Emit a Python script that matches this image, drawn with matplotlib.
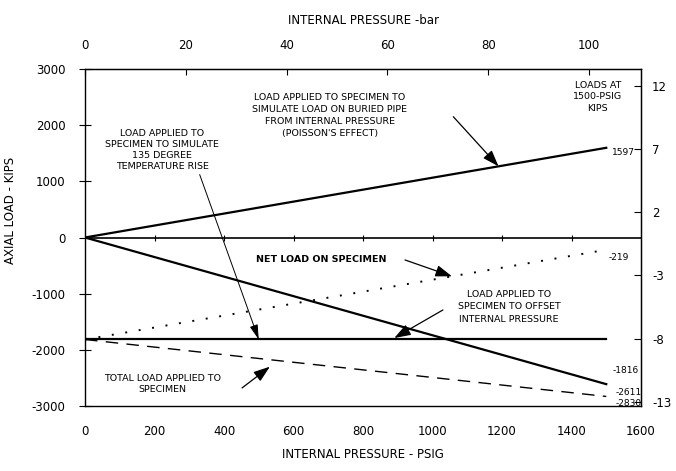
import matplotlib
matplotlib.use("Agg")
import matplotlib.pyplot as plt
import numpy as np

# ---- data ----
pressure_psig = [0, 1500]
poisson_load = [0, 1597]          # load to simulate Poisson effect
temperature_load = [-1816, -1816]  # 135 degree temperature rise
offset_load = [0, -2611]          # offset internal pressure
net_load = [-1816, -219]          # net load on specimen
total_load = [-1816, -2830]       # total load applied

x_ticks = [0, 200, 400, 600, 800, 1000, 1200, 1400, 1600]
y_ticks = [-3000, -2000, -1000, 0, 1000, 2000, 3000]
bar_ticks = [0, 20, 40, 60, 80, 100]
mn_ticks = [12, 7, 2, -3, -8, -13]

PSI_PER_BAR = 14.5038
MN_PER_KIP = 0.004448

plt.rcParams['font.family'] = ['DejaVu Sans']
plt.rcParams['axes.unicode_minus'] = False

fig = plt.figure(figsize=(6.76, 4.71), dpi=100)
ax = fig.add_axes([85/676, 65/471, (641-85)/676, (406-69)/471])
ax.set_xlim(0, 1600)
ax.set_ylim(-3000, 3000)

lw_main = 1.6
ax.axhline(0, color='black', lw=1.2)
ax.plot(x_ticks[1:-1], [0]*len(x_ticks[1:-1]), ls='none', marker='|', ms=5, mew=0.8, color='black')
ax.plot(pressure_psig, poisson_load, color='black', lw=lw_main)
ax.plot(pressure_psig, temperature_load, color='black', lw=lw_main)
ax.plot(pressure_psig, offset_load, color='black', lw=lw_main)
ax.plot(pressure_psig, net_load, color='black', lw=1.4, ls=(0, (1, 6)))
ax.plot(pressure_psig, total_load, color='black', lw=1.0, ls=(0, (9, 6)))

for s in ax.spines.values():
    s.set_linewidth(1.0)

fs_tick = 8.5
ax.set_xticks(x_ticks)
ax.set_yticks(y_ticks)
ax.tick_params(axis='x', length=0, pad=14, labelsize=fs_tick)
ax.tick_params(axis='y', direction='inout', length=8, pad=10, labelsize=fs_tick)
ax.set_xlabel('INTERNAL PRESSURE - PSIG', fontsize=8.5, labelpad=7)
ax.set_ylabel('AXIAL LOAD - KIPS', fontsize=8.5)
ax.yaxis.set_label_coords(-0.122, 0.58)

# top axis (bar)
top = ax.secondary_xaxis('top', functions=(lambda p: p / PSI_PER_BAR, lambda b: b * PSI_PER_BAR))
top.set_xticks(bar_ticks)
top.tick_params(direction='in', length=4, pad=12, labelsize=fs_tick)
top.set_xlabel('INTERNAL PRESSURE -bar', fontsize=8.5, labelpad=11)

# right axis (MN)
right = ax.secondary_yaxis('right', functions=(lambda k: k * MN_PER_KIP, lambda m: m / MN_PER_KIP))
right.set_yticks(mn_ticks)
right.tick_params(direction='in', length=5, pad=8, labelsize=fs_tick)

fs_ann = 6.8
arrow_solid = dict(arrowstyle='-|>,head_length=1.0,head_width=0.35', color='black', lw=0.9, shrinkA=0, shrinkB=0)
arrow_thin = dict(arrowstyle='-|>,head_length=0.9,head_width=0.25', color='black', lw=0.7, shrinkA=0, shrinkB=0)

ax.text(705, 2172, "LOAD APPLIED TO SPECIMEN TO\nSIMULATE LOAD ON BURIED PIPE\nFROM INTERNAL PRESSURE\n(POISSON'S EFFECT)",
        ha='center', va='center', fontsize=fs_ann, linespacing=1.45)
ax.annotate('', xy=(1190, 1597*1190/1500), xytext=(1060, 2150), arrowprops=arrow_solid)

ax.text(222, 1560, "LOAD APPLIED TO\nSPECIMEN TO SIMULATE\n135 DEGREE\nTEMPERATURE RISE",
        ha='center', va='center', fontsize=fs_ann, linespacing=1.3)
ax.annotate('', xy=(500, -1816), xytext=(330, 1120), arrowprops=arrow_thin)

ax.text(869, -400, "NET LOAD ON SPECIMEN", ha='right', va='center', fontsize=fs_ann, fontweight='bold')
ax.annotate('', xy=(1056, -1816 + 1597*1056/1500), xytext=(921, -400), arrowprops=arrow_solid)

ax.text(1220, -1236, "LOAD APPLIED TO\nSPECIMEN TO OFFSET\nINTERNAL PRESSURE",
        ha='center', va='center', fontsize=fs_ann, linespacing=1.45)
ax.annotate('', xy=(890, -1790), xytext=(1030, -1290), arrowprops=arrow_solid)

ax.text(224, -2616, "TOTAL LOAD APPLIED TO\nSPECIMEN", ha='center', va='center', fontsize=fs_ann, linespacing=1.3)
ax.annotate('', xy=(532, -2300), xytext=(452, -2678), arrowprops=arrow_solid)

ax.text(1476, 2502, "LOADS AT\n1500-PSIG\nKIPS", ha='center', va='center', fontsize=fs_ann, linespacing=1.35)

fs_val = 6.5
ax.text(1515, 1520, str(poisson_load[-1]), ha='left', va='center', fontsize=fs_val)
ax.text(1508, -364, str(net_load[-1]), ha='left', va='center', fontsize=fs_val)
ax.text(1519, -2376, str(temperature_load[-1]), ha='left', va='center', fontsize=fs_val)
ax.text(1528, -2767, str(offset_load[-1]), ha='left', va='center', fontsize=fs_val)
ax.text(1528, -2960, str(total_load[-1]), ha='left', va='center', fontsize=fs_val)

fig.savefig('out.png', dpi=100)
